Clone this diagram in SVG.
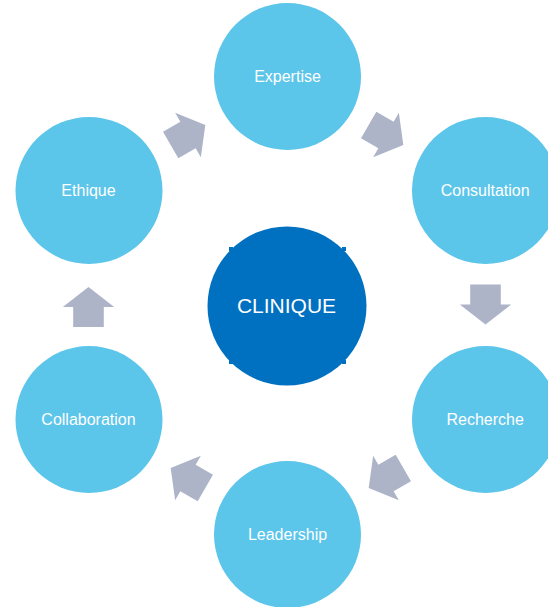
<svg xmlns="http://www.w3.org/2000/svg" width="548" height="607" viewBox="0 0 548 607">
<defs>
<style>
.node{fill:#5CC5EA}
.lbl{font-family:"Liberation Sans",Arial,sans-serif;font-size:16px;fill:#FFFFFF;text-anchor:middle}
.center{fill:#0070C0}
.clbl{font-family:"Liberation Sans",Arial,sans-serif;font-size:21px;fill:#FFFFFF;text-anchor:middle}
.arrow{fill:#ADB4C8}
</style>
<path id="arr" d="M0,-20 L25.7,0 L15.3,0 L15.3,20 L-15.3,20 L-15.3,0 L-25.7,0 Z"/>
</defs>
<rect width="548" height="607" fill="#FFFFFF"/>
<g id="connectors" class="arrow">
<use href="#arr" transform="translate(188,135) rotate(60)"/>
<use href="#arr" transform="translate(386,135) rotate(120)"/>
<use href="#arr" transform="translate(485.5,304.5) rotate(180)"/>
<use href="#arr" transform="translate(386,478) rotate(-120)"/>
<use href="#arr" transform="translate(188,478) rotate(-60)"/>
<use href="#arr" transform="translate(88.5,307)"/>
</g>
<g id="clinique">
<rect class="center" x="229" y="247" width="4" height="4"/>
<rect class="center" x="342" y="247" width="4" height="4"/>
<rect class="center" x="229" y="360" width="4" height="4"/>
<rect class="center" x="342" y="360" width="4" height="4"/>
<circle class="center" cx="287" cy="306" r="79.5"/>
<text class="clbl" x="286.5" y="312.7">CLINIQUE</text>
</g>
<g id="expertise">
<circle class="node" cx="287.5" cy="76.5" r="73.5"/>
<text class="lbl" x="287.5" y="82.3">Expertise</text>
</g>
<g id="consultation">
<circle class="node" cx="485.5" cy="190.5" r="73.5"/>
<text class="lbl" x="485.2" y="196.3">Consultation</text>
</g>
<g id="recherche">
<circle class="node" cx="485.5" cy="419.5" r="73.5"/>
<text class="lbl" x="485.2" y="425.3">Recherche</text>
</g>
<g id="leadership">
<circle class="node" cx="287.5" cy="534.5" r="73.5"/>
<text class="lbl" x="287.5" y="540.3">Leadership</text>
</g>
<g id="collaboration">
<circle class="node" cx="89" cy="419.5" r="73.5"/>
<text class="lbl" x="88.5" y="425.3">Collaboration</text>
</g>
<g id="ethique">
<circle class="node" cx="89" cy="190.5" r="73.5"/>
<text class="lbl" x="88.5" y="196.3">Ethique</text>
</g>
</svg>
